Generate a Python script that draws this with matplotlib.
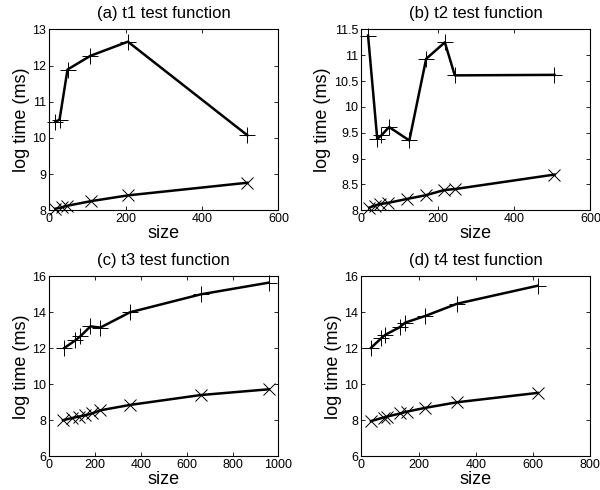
import matplotlib
matplotlib.use("Agg")
import matplotlib.pyplot as plt

plt.rcParams['font.family'] = ['Liberation Sans', 'DejaVu Sans']

# (a) t1
t1_plus_x = [16, 27, 48, 108, 206, 519]
t1_plus_y = [10.45, 10.5, 11.89, 12.27, 12.66, 10.07]
t1_cross_x = [16, 33, 46, 109, 206, 519]
t1_cross_y = [8.04, 8.08, 8.12, 8.25, 8.41, 8.76]

# (b) t2
t2_plus_x = [18, 42, 53, 73, 126, 170, 219, 245, 506]
t2_plus_y = [11.38, 9.38, 9.45, 9.61, 9.35, 10.93, 11.25, 10.61, 10.62]
t2_cross_x = [21, 36, 50, 69, 121, 169, 217, 246, 506]
t2_cross_y = [8.05, 8.09, 8.12, 8.14, 8.22, 8.29, 8.39, 8.41, 8.69]

# (c) t3
t3_plus_x = [66, 114, 136, 180, 223, 352, 661, 958]
t3_plus_y = [12.02, 12.44, 12.67, 13.22, 13.15, 14.0, 15.0, 15.65]
t3_cross_x = [60, 99, 128, 158, 187, 223, 352, 661, 958]
t3_cross_y = [8.0, 8.12, 8.2, 8.28, 8.38, 8.55, 8.85, 9.4, 9.72]

# (d) t4
t4_plus_x = [34, 70, 84, 134, 154, 224, 335, 616]
t4_plus_y = [12.02, 12.56, 12.75, 13.17, 13.43, 13.8, 14.48, 15.48]
t4_cross_x = [34, 78, 90, 137, 160, 221, 335, 616]
t4_cross_y = [7.95, 8.15, 8.2, 8.38, 8.48, 8.68, 9.0, 9.52]

panels = [
    ("(a) t1 test function", t1_plus_x, t1_plus_y, t1_cross_x, t1_cross_y,
     (0, 600), (8, 13), [0, 200, 400, 600], [8, 9, 10, 11, 12, 13]),
    ("(b) t2 test function", t2_plus_x, t2_plus_y, t2_cross_x, t2_cross_y,
     (0, 600), (8, 11.5), [0, 200, 400, 600], [8, 8.5, 9, 9.5, 10, 10.5, 11, 11.5]),
    ("(c) t3 test function", t3_plus_x, t3_plus_y, t3_cross_x, t3_cross_y,
     (0, 1000), (6, 16), [0, 200, 400, 600, 800, 1000], [6, 8, 10, 12, 14, 16]),
    ("(d) t4 test function", t4_plus_x, t4_plus_y, t4_cross_x, t4_cross_y,
     (0, 800), (6, 16), [0, 200, 400, 600, 800], [6, 8, 10, 12, 14, 16]),
]

positions = [
    [0.082, 0.571, 0.382, 0.369],
    [0.602, 0.571, 0.382, 0.369],
    [0.082, 0.069, 0.382, 0.367],
    [0.602, 0.069, 0.382, 0.367],
]

fig = plt.figure(figsize=(6, 4.9), dpi=100)

for pos, (title, px, py, cx, cy, xlim, ylim, xt, yt) in zip(positions, panels):
    ax = fig.add_axes(pos)
    ax.plot(px, py, color='black', linewidth=1.8, marker='+', markersize=11,
            markeredgewidth=0.7, clip_on=False)
    ax.plot(cx, cy, color='black', linewidth=1.8, marker='x', markersize=8,
            markeredgewidth=0.7, clip_on=False)
    ax.set_xlim(*xlim)
    ax.set_ylim(*ylim)
    ax.set_xticks(xt)
    ax.set_yticks(yt)
    ax.set_yticklabels([f"{v:g}" for v in yt])
    ax.tick_params(direction='in', top=True, right=True, labelsize=9,
                   length=3, width=0.6, pad=2)
    for s in ax.spines.values():
        s.set_linewidth(0.8)
    ax.set_title(title, fontsize=12, pad=8)
    ax.set_xlabel("size", fontsize=13, labelpad=0)
    ax.set_ylabel("log time (ms)", fontsize=13, labelpad=2)

fig.savefig("out.png", dpi=100)
